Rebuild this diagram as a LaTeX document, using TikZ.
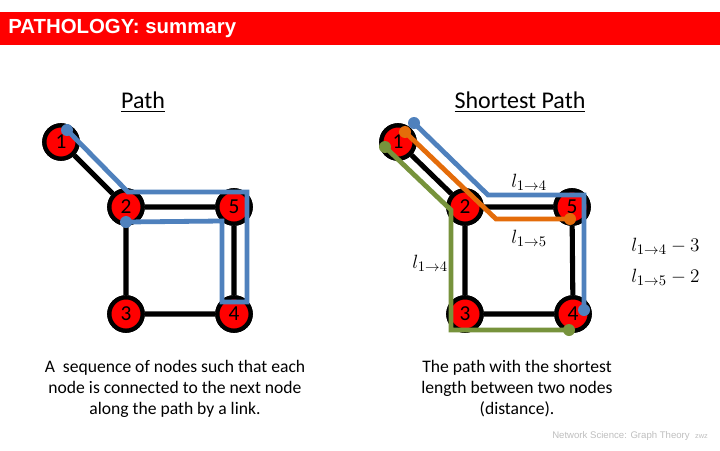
\documentclass[tikz,border=0pt]{standalone}
\usepackage{fontspec}
\setmainfont{Carlito}
\newfontfamily\arialfont{Liberation Sans}
\begin{document}
\begin{tikzpicture}[x=0.75pt,y=-0.75pt,
  gnode/.style={circle,fill=red,draw=black,line width=3.2pt,minimum size=25pt,inner sep=0pt,font=\fontsize{16}{16}\selectfont},
  edge/.style={line width=3.8pt,black},
  bluepath/.style={line width=3.6pt,draw=pathblue,line join=miter},
  orangepath/.style={line width=3.6pt,draw=pathorange,line join=miter},
  greenpath/.style={line width=3.6pt,draw=pathgreen,line join=miter},
  title/.style={font=\fontsize{18}{20}\selectfont},
  desc/.style={align=center,font=\fontsize{13.2}{15.8}\selectfont},
  mlabel/.style={font=\fontsize{15}{17}\selectfont,inner sep=0pt}
]
\definecolor{pathblue}{RGB}{79,129,189}
\definecolor{pathorange}{RGB}{228,108,10}
\definecolor{pathgreen}{RGB}{119,147,60}
\useasboundingbox (0,0) rectangle (720,450);
\fill[white] (0,0) rectangle (720,450);
% header bar
\fill[red] (0,12) rectangle (720,45);
\node[anchor=west,text=white,font=\arialfont\bfseries\fontsize{15.3}{17}\selectfont,inner sep=0pt] (hdr) at (8,28) {PATHOLOGY: summary};

% titles
\node[title] (t1) at (143,102) {\underline{Path}};
\node[title] (t2) at (520,102) {\underline{Shortest Path}};

% ---------- left graph ----------
\node[gnode] (a1) at (61,142) {1};
\node[gnode] (a2) at (126,207) {2};
\node[gnode] (a5) at (234,207) {5};
\node[gnode] (a3) at (126,314) {3};
\node[gnode] (a4) at (234,314) {4};
\draw[edge] (a1) -- (a2) (a2) -- (a5) (a2) -- (a3) (a3) -- (a4) (a5) -- (a4);
\node[gnode] at (a1) {1};
\node[gnode] at (a2) {2};
\node[gnode] at (a5) {5};
\node[gnode] at (a3) {3};
\node[gnode] at (a4) {4};

\coordinate (pa0) at (67,130);
\coordinate (pa1) at (128,192);
\coordinate (pa2) at (247,192);
\coordinate (pa3) at (247,302);
\coordinate (pa4) at (222,302);
\coordinate (pa5) at (222,221);
\coordinate (pa6) at (126,222);
\draw[bluepath] (pa0) -- (pa1) -- (pa2) -- (pa3) -- (pa4) -- (pa5) -- (pa6);
\fill[pathblue] (pa0) circle (6);
\fill[pathblue] (pa6) circle (6);

% ---------- right graph ----------
\node[gnode] (b1) at (398,142) {1};
\node[gnode] (b2) at (465,207) {2};
\node[gnode] (b5) at (572,207) {5};
\node[gnode] (b3) at (465,314) {3};
\node[gnode] (b4) at (573,314) {4};
\draw[edge] (b1) -- (b2) (b2) -- (b5) (b2) -- (b3) (b3) -- (b4) (b5) -- (b4);
\node[gnode] at (b1) {1};
\node[gnode] at (b2) {2};
\node[gnode] at (b5) {5};
\node[gnode] at (b3) {3};
\node[gnode] at (b4) {4};

% blue: 1 -> 4 via 5
\coordinate (qb0) at (414,123);
\coordinate (qb1) at (488,195);
\coordinate (qb2) at (584,195);
\coordinate (qb3) at (584,310);
\draw[bluepath] (qb0) -- (qb1) -- (qb2) -- (qb3);
\fill[pathblue] (qb0) circle (6);
\fill[pathblue] (qb3) circle (6);
% orange: 1 -> 5
\coordinate (qo0) at (405,132);
\coordinate (qo1) at (496,219);
\coordinate (qo2) at (570,219);
\draw[orangepath] (qo0) -- (qo1) -- (qo2);
\fill[pathorange] (qo0) circle (6);
\fill[pathorange] (qo2) circle (6);
% green: 1 -> 4 via 3
\coordinate (qg0) at (385,147);
\coordinate (qg1) at (451,210);
\coordinate (qg2) at (451,330);
\coordinate (qg3) at (569,330);
\draw[greenpath] (qg0) -- (qg1) -- (qg2) -- (qg3);
\fill[pathgreen] (qg0) circle (6);
\fill[pathgreen] (qg3) circle (6);

% labels
\node[mlabel] (l1) at (529,182) {$l_{1\to 4}$};
\node[mlabel] (l2) at (529,238) {$l_{1\to 5}$};
\node[mlabel] (l3) at (430,263) {$l_{1\to 4}$};
\node[mlabel,anchor=west] (e1) at (631,246) {$l_{1\to 4} - 3$};
\node[mlabel,anchor=west] (e2) at (631,277) {$l_{1\to 5} - 2$};

% descriptions
\node[desc] (d1) at (175,389) {A\ \ sequence of nodes such that each\\node is connected to the next node\\along the path by a link.};
\node[desc] (d2) at (517,389) {The path with the shortest\\length between two nodes\\(distance).};

% footer
\node[anchor=west,text=black!25,font=\arialfont\fontsize{7.2}{8}\selectfont,inner sep=0pt] (ft) at (552,436) {Network Science: Graph Theory\ \ {\fontsize{5.5}{6}\selectfont zwz}};
\end{tikzpicture}
\end{document}
